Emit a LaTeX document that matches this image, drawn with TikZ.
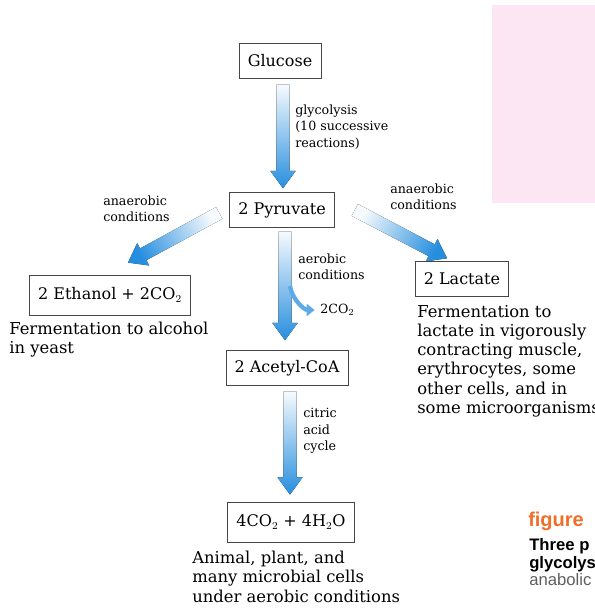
\documentclass[tikz,border=0pt]{standalone}
\usepackage{fontspec}
\setmainfont{DejaVu Serif}
\newfontfamily\capfont{Liberation Sans}
\usetikzlibrary{calc, positioning, arrows.meta}
\definecolor{arrowblue}{RGB}{38, 142, 222}
\definecolor{boxgray}{RGB}{70, 70, 70}
\definecolor{pinkpage}{RGB}{252, 230, 243}
\definecolor{figorange}{RGB}{240, 110, 40}
\definecolor{capgray}{RGB}{95, 95, 95}
\tikzset{
    stage/.style={rectangle, draw=boxgray, line width=0.6pt, fill=white,
                  font=\fontsize{12}{14}\selectfont, minimum height=26pt,
                  inner xsep=6.5pt},
    note/.style={align=left, anchor=north west, inner sep=0pt,
                 font=\fontsize{12.3}{14.4}\selectfont},
    cond/.style={align=left, anchor=west, inner sep=0pt,
                 font=\fontsize{9.5}{12.4}\selectfont},
    fade/.style={shading=axis, top color=arrowblue!4, bottom color=arrowblue},
    branch/.style={line width=3.2pt, arrowblue!75,
                   -{Triangle[length=6pt, width=9pt]}, shorten >=4pt},
}
\newcommand{\shaftw}{5pt}
\newcommand{\headw}{9.5pt}
\newcommand{\headl}{13pt}
% fat shaded arrow: tail, tip, shading angle
\newcommand{\fatarrow}[3]{%
    \fill[fade, shading angle=#3]
        ($(#1)!\shaftw!90:(#2)$) --
        ($(#2)!\headl!(#1)!\shaftw!-90:(#1)$) --
        ($(#2)!\headl!(#1)!\headw!-90:(#1)$) --
        (#2) --
        ($(#2)!\headl!(#1)!\headw!90:(#1)$) --
        ($(#2)!\headl!(#1)!\shaftw!90:(#1)$) --
        ($(#1)!\shaftw!-90:(#2)$) -- cycle;}

\begin{document}
\begin{tikzpicture}[x=0.75pt, y=-0.75pt]
    \useasboundingbox (0,0) rectangle (595,610);
    \clip (0,0) rectangle (595,610);

    % Page corner
    \fill[pinkpage] (492,5) rectangle (600,203);

    % Stages
    \node[stage] (glucose) at (280,61) {Glucose};
    \node[stage] (pyruvate) at (282,210) {2 Pyruvate};
    \node[stage, minimum height=30pt] (ethanol) at (110,295) {2 Ethanol + 2CO$_2$};
    \node[stage] (lactate) at (462,279) {2 Lactate};
    \node[stage] (acetyl) at (287,368) {2 Acetyl-CoA};
    \node[stage, minimum height=30pt] (water) at (291,522) {4CO$_2$ + 4H$_2$O};

    % Arrow ends
    \coordinate (gly-a) at ($(glucose.south)+(3,6)$);
    \coordinate (gly-b) at ($(pyruvate.north)+(1,-4)$);
    \coordinate (eth-a) at ($(pyruvate.west)+(-10,3)$);
    \coordinate (eth-b) at ($(ethanol.north)+(18,-12)$);
    \coordinate (lac-a) at ($(pyruvate.east)+(20,0)$);
    \coordinate (lac-b) at ($(lactate.north)+(-15,-3)$);
    \coordinate (aer-a) at ($(pyruvate.south)+(3,4)$);
    \coordinate (aer-b) at ($(acetyl.north)+(-2,-10)$);
    \coordinate (tca-a) at ($(acetyl.south)+(3,6)$);
    \coordinate (tca-b) at ($(water.north)+(-1,-7)$);

    % Arrows
    \fatarrow{gly-a}{gly-b}{0}
    \fatarrow{eth-a}{eth-b}{-60}
    \fatarrow{lac-a}{lac-b}{61}
    \fatarrow{aer-a}{aer-b}{0}
    \fatarrow{tca-a}{tca-b}{0}

    % Carbon dioxide branch
    \node[cond] (co2) at (320,310) {2CO$_2$};
    \coordinate (co2-fork) at ($(aer-a)!0.5!(aer-b)+(5,0)$);
    \draw[branch] (co2-fork) to[out=-80, in=180] (co2.west);

    % Conditions
    \node[cond] (glylabel) at (295,127) {glycolysis\\(10 successive\\reactions)};
    \node[cond] (leftcond) at (103,209) {anaerobic\\conditions};
    \node[cond] (rightcond) at (390,197) {anaerobic\\conditions};
    \node[cond] (aercond) at (298,267) {aerobic\\conditions};
    \node[cond] (tcalabel) at (303,431) {citric\\acid\\cycle};

    % Notes
    \node[note] (ethnote) at (9,322) {Fermentation to alcohol\\in yeast};
    \node[note] (lacnote) at (417,305) {Fermentation to\\lactate in vigorously\\
        contracting muscle,\\erythrocytes, some\\other cells, and in\\some microorganisms};
    \node[note] (waternote) at (192,551) {Animal, plant, and\\many microbial cells\\
        under aerobic conditions};

    % Caption
    \node[anchor=base west, inner sep=0pt, text=figorange,
          font=\capfont\bfseries\fontsize{15}{15}\selectfont] (figword) at (528,526) {figure};
    \node[anchor=base west, inner sep=0pt, font=\capfont\bfseries\fontsize{12.5}{13}\selectfont]
        (cap1) at (529,550) {Three p};
    \node[anchor=base west, inner sep=0pt, font=\capfont\bfseries\fontsize{12.5}{13}\selectfont]
        (cap2) at (529,568) {glycolys};
    \node[anchor=base west, inner sep=0pt, text=capgray,
          font=\capfont\fontsize{12.5}{13}\selectfont] (cap3) at (529,585) {anabolic};
\end{tikzpicture}
\end{document}
